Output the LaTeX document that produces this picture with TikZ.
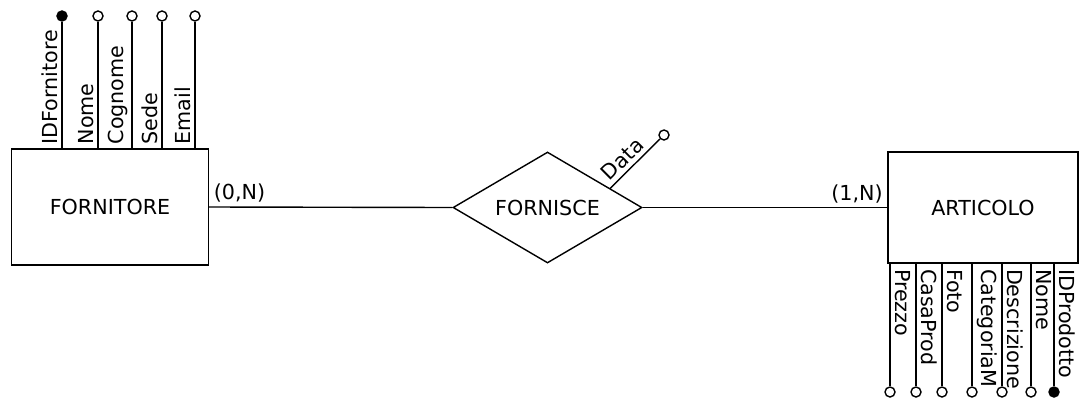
\documentclass[tikz,border=0pt]{standalone}
\usepackage{fontspec}
\setmainfont{DejaVu Sans}
\usepackage{tikz}
\usetikzlibrary{shapes.geometric}
\tikzstyle{entity}=[draw=black,rectangle,inner sep=0pt]
\tikzstyle{relation}=[draw=black,diamond,inner sep=0pt,aspect=1.7]
\tikzstyle{attr}=[draw=black,fill=white,circle,inner sep=0pt,minimum size=7.5pt]
\tikzstyle{keyattr}=[attr,fill=black]
\tikzstyle{attrlabel}=[inner sep=3pt]

\begin{document}
\begin{tikzpicture}[x=0.75pt,y=-0.75pt,line width=1.05pt,
    font=\fontsize{15.5}{18}\selectfont]
      \useasboundingbox (0,0) rectangle (1079,401);

      \node[entity,minimum width=147.75pt,minimum height=87pt] (fornitore) at (110,207) {FORNITORE};
      \node[relation,minimum width=141.75pt,minimum height=83.25pt] (fornisce) at (547.5,207.5) {FORNISCE};
      \node[entity,minimum width=142.5pt,minimum height=83.25pt] (articolo) at (983,207.5) {ARTICOLO};

      \draw (fornitore.east) -- (fornisce.west);
      \draw (fornisce.east) -- (articolo.west);
      \node[attrlabel,anchor=south west] (cardf) at (fornitore.east) {(0,N)};
      \node[attrlabel,anchor=south east] (carda) at (articolo.west) {(1,N)};

      \foreach \x/\n/\t/\s in {62/1/IDFornitore/keyattr,98/2/Nome/attr,132/3/Cognome/attr,
                               162/4/Sede/attr,195/5/Email/attr}{
        \coordinate (f\n) at (\x,149);
        \node[\s] (fc\n) at (\x,16) {};
        \draw (f\n) -- (fc\n);
        \node[attrlabel,rotate=90,anchor=south west] (fl\n) at (f\n) {\t};
      }

      \foreach \x/\n/\t/\s in {890/1/Prezzo/attr,916/2/CasaProd/attr,942/3/Foto/attr,
                               972/4/CategoriaM/attr,1002/5/Descrizione/attr,
                               1031/6/Nome/attr,1054/7/IDProdotto/keyattr}{
        \coordinate (a\n) at (\x,263);
        \node[\s] (ac\n) at (\x,392) {};
        \draw (a\n) -- (ac\n);
        \node[attrlabel,rotate=-90,anchor=south west,xshift=1pt] (al\n) at (a\n) {\t};
      }

      \coordinate (d0) at (610,188.5);
      \node[attr] (dc) at (664,135) {};
      \draw (d0) -- node[attrlabel,sloped,above,pos=0.42] (dl) {Data} (dc);
\end{tikzpicture}
\end{document}
